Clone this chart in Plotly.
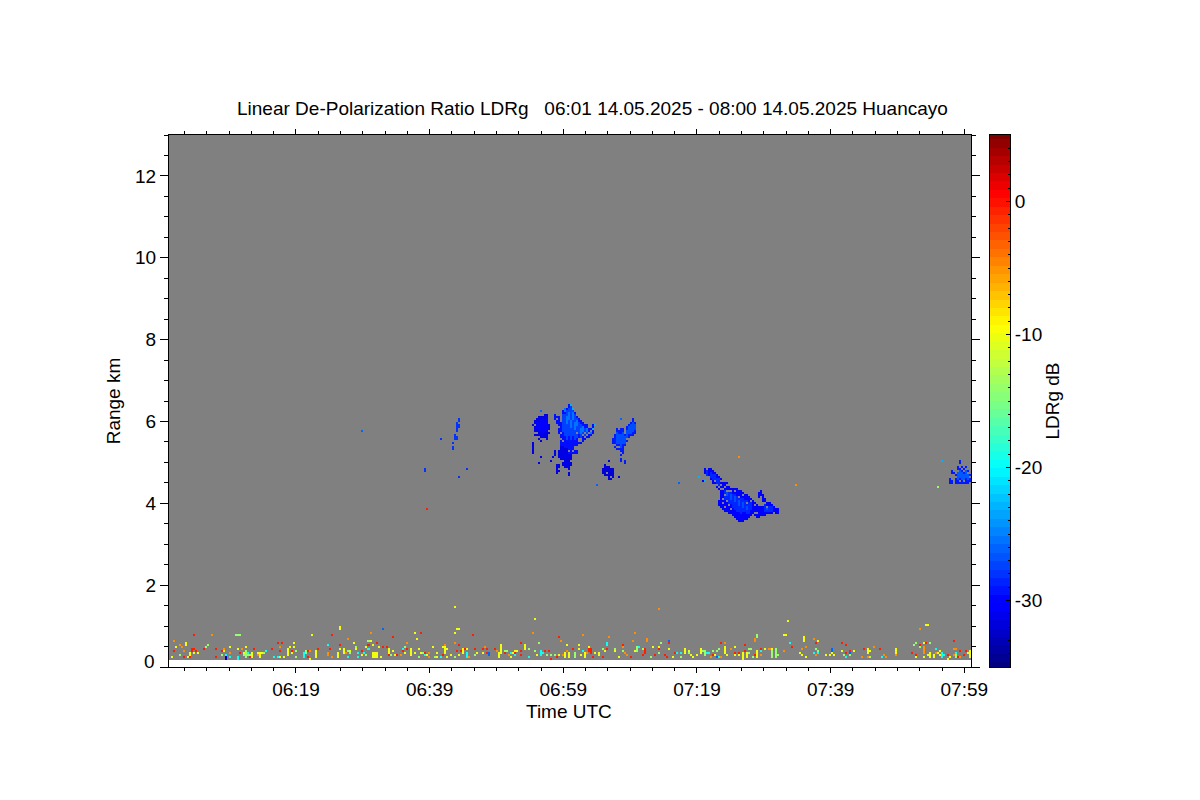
import numpy as np
import pandas as pd
import plotly.graph_objects as go

# ---- radar grid ----
START = "2025-05-14 06:00:00"
PROFILE_SECONDS = 18
N_PROFILES = 400
FIRST_GATE_KM = 0.17
GATE_KM = 0.04888
N_GATES = 263

TITLE = "Linear De-Polarization Ratio LDRg   06:01 14.05.2025 - 08:00 14.05.2025 Huancayo"
Y_LABELS = [2, 4, 6, 8, 10, 12]
CB_LABELS = [-30, -20, -10, 0]
CB_TEXT = ["-30", "-20", "-10", "0"]

# ---- cloud patches: (profile, lowest gate, highest gate) ----
BLOB_A = [(181,117,118),(181,103,108),(182,112,119),(183,112,120),(184,110,121),(185,109,121),(186,111,121),
          (187,111,122),(188,110,122),(189,113,117)]
BLOB_A_CORE = [(183,115,118),(184,114,118),(185,114,119),(186,113,120),(187,114,119),(188,115,120)]
BLOB_B = [(192,120,122),(193,118,121),(194,113,121),(195,107,118),(196,107,124),(197,106,125),(198,106,125),
          (199,102,127),(200,102,127),(201,103,125),(202,103,123),(203,103,121),(204,108,120),(205,108,119),
          (206,109,118),(207,110,117),(208,111,117),(209,111,115),(210,112,115),(211,113,117)]
BLOB_B_CORE = [(196,114,122),(197,112,122),(198,110,124),(199,112,125),(200,110,126),(201,112,124),(202,110,122),(203,111,120),
               (204,113,118),(205,110,117),(206,112,116),(207,112,115),(208,113,115)]
BLOB_B_LIGHT = [(198,118,121),(199,120,123),(200,116,119),(201,120,123),(202,115,118),(203,117,119),(205,113,115),(206,114,116),
                (208,114,115),(210,113,114),(197,124,125)]
BLOB_C = [(184,98,98),(185,101,101),(190,99,99),(191,101,101),(192,102,104),(193,93,97),(194,94,97),(194,101,104),
          (195,100,106),(196,97,106),(197,96,105),(198,96,105),(199,92,102),(200,97,102)]
BLOB_D = [(221,108,110),(222,106,112),(223,105,115),(224,105,114),(225,99,115),(226,103,115),(227,107,112),
          (227,98,99),(228,109,116),(229,111,117),(230,112,118),(231,112,120),(232,113,118)]
BLOB_D_CORE = [(223,108,113),(224,108,112),(225,106,112),(226,108,113),(227,108,111),(228,111,114),(229,113,116),(230,113,117),(231,114,118),(232,115,117)]
BLOB_E = [(213,87,87),(216,93,95),(217,92,97),(218,92,96),(219,90,96),(219,99,99),(220,90,95),(221,91,95),(224,91,91)]
BLOB_F = [(264,91,91),(266,89,89),(267,93,95),(269,92,95),(270,90,95),(271,88,94),(272,88,93),(273,86,92),(274,85,91),
          (274,77,79),(275,83,90),(275,76,82),(276,75,88),(277,74,88),(278,74,88),(279,73,86),(280,73,85),(281,72,85),
          (282,71,85),(283,70,85),(284,69,84),(285,69,84),(286,69,83),(287,70,82),(288,70,82),(289,71,81),(290,72,80),
          (291,73,79),(292,72,78),(293,71,77),(294,81,83),(294,71,76),(295,82,84),(295,72,76),(296,79,82),(296,72,76),
          (297,72,80),(298,73,78),(299,73,78),(300,73,77),(301,74,76),(302,73,75),(303,73,75)]
BLOB_F_CORE = [(268,92,94),(270,91,93),(271,90,92),(272,90,92),(273,88,90),(274,87,90),(277,80,84),(278,80,84),(279,78,83),(280,78,83),
               (281,76,82),(282,75,82),(283,74,81),(284,74,80),(285,73,80),(286,74,80),(287,74,79),(288,73,79),(289,73,78),(290,75,78),
               (297,74,77),(298,74,76),(299,74,76),(300,74,76)]
BLOB_F_LIGHT = [(280,80,82),(282,79,81),(284,77,79),(286,76,78),(278,82,83),(288,75,76),(298,75,76)]
BLOB_G = [(389,88,90),(390,93,94),(390,88,89),(391,93,93),(392,88,92),(393,88,96),(394,88,99),(395,88,96),
          (396,88,95),(397,88,96),(398,88,94),(399,89,92)]
BLOB_G_CORE = [(393,90,93),(394,91,94),(395,90,93),(396,90,92),(397,91,94),(398,90,92)]
STREAK_H = [(127,94,95),(135,110,110),(141,105,106),(141,108,108),(142,110,112),(143,110,111),(143,114,118),(144,116,117),(144,119,120),
            (144,91,91),(148,95,95)]
FAINT_DOTS = [(96,114),(254,88),(185,124),(213,87),(225,120)]
CYAN_DOTS = [(200,127),(201,125),(211,115),(212,117),(385,99),(264,91),(267,89)]
# cells left empty inside the patches: (profile, gate)
HOLES = [(181,118),(182,117),(182,113),(183,113),(184,111),(185,110),(189,114),(194,116),(195,110),(195,113),(196,109),(199,104),
         (201,104),(202,105),(202,106),(203,105),(203,106),(203,113),(204,109),(204,110),(205,109),(205,110),(206,112),(207,111),
         (207,113),(208,112),(209,113),(210,114),(193,120),(194,95),(196,99),(199,94),(200,99),(225,101),(225,103),(223,106),
         (224,106),(222,107),(228,110),(218,93),(220,91),(275,85),(275,87),(275,89),(276,85),(276,80),(276,78),(277,82),(277,86),
         (277,76),(278,79),(278,84),(278,87),(279,77),(279,84),(280,75),(280,84),(282,84),(284,81),(286,82),(288,78),(290,79),(292,77),
         (292,73),(293,73),(297,78),(298,76),(272,89),(273,87),(274,86),(392,91),(393,94),(394,96),(394,97),(395,95),(396,94),(397,95),
         (398,93),(399,91),(396,89),(394,89)]

# ---- near-ground clutter: (profile, gate) ----
SPK_RED = [(12,12),(11,5),(11,4),(12,5),(13,4),(17,5),(23,5),(26,4),(35,3),(40,1),(42,5),(51,5),(54,8),(56,8),(55,4),
           (61,4),(23,1),(10,1),(7,1),(2,4),(81,12),(125,13),(111,11),(74,5),(85,7),(80,5),(96,4),(103,8),(99,7),
           (106,6),(108,6),(69,4),(69,1),(109,2),(113,2),(116,4),(131,6),(127,3),(85,5),(118,5),(194,11),(175,8),
           (144,7),(151,12),(143,4),(145,4),(152,5),(156,5),(158,5),(162,5),(136,2),(147,5),(167,3),(172,3),(175,2),
           (175,4),(187,4),(189,4),(201,5),(190,0),(193,1),(158,3),(249,8),(226,7),(209,4),(210,4),(237,4),(237,3),
           (242,2),(244,5),(247,2),(252,3),(211,1),(216,1),(218,5),(230,1),(236,2),(248,1),(275,8),(287,7),(287,4),
           (284,3),(271,2),(295,5),(282,3),(337,7),(335,8),(337,3),(322,8),(310,6),(292,2),(374,7),(377,8),(391,9),
           (370,3),(372,2),(354,5),(346,5),(339,4),(388,2),(394,4),(397,4),(396,2),(393,1),(128,75)]
SPK_ORANGE = [(2,9),(5,7),(6,6),(21,12),(7,4),(10,2),(27,5),(30,3),(36,5),(44,2),(55,6),(89,10),(100,13),(70,4),(79,3),
              (79,2),(81,1),(87,5),(88,3),(118,8),(111,4),(115,2),(129,1),(129,3),(181,13),(142,8),(157,6),(163,4),
              (169,2),(159,2),(149,1),(196,2),(195,9),(137,7),(198,4),(206,12),(232,13),(238,9),(238,10),(219,11),(231,9),
              (227,3),(228,2),(226,6),(208,3),(292,10),(292,9),(277,8),(280,5),(299,5),(315,5),(317,6),(321,10),(306,4),
              (295,2),(270,1),(275,1),(322,2),(374,15),(376,5),(376,4),(351,6),(345,1),(356,2),(357,1),(348,1),(362,2),
              (382,3),(391,2),(391,5),(392,5),(394,1),(399,3),(244,25),(284,101),(312,87)]
SPK_YELLOW = [(8,8),(8,7),(3,6),(9,1),(1,1),(10,3),(10,2),(12,3),(14,3),(27,4),(30,6),(34,5),(38,6),(41,3),(41,2),(44,3),
              (46,3),(45,2),(59,4),(59,3),(59,2),(60,6),(62,8),(62,6),(61,3),(55,1),(57,1),(37,3),(85,15),(71,12),(123,10),
              (122,13),(92,8),(93,5),(100,9),(101,7),(104,6),(98,6),(109,5),(111,4),(70,0),(73,3),(73,2),(84,3),(85,5),
              (87,5),(90,4),(96,2),(101,2),(102,2),(103,2),(103,3),(105,1),(112,2),(117,3),(120,5),(120,3),(122,3),(124,5),
              (125,3),(128,2),(133,3),(131,6),(133,1),(144,15),(142,13),(136,6),(138,5),(137,5),(137,4),(146,5),(146,4),
              (148,5),(165,7),(165,6),(165,4),(172,4),(173,4),(177,7),(177,6),(140,2),(153,3),(156,3),(164,3),(164,2),
              (170,1),(183,2),(186,3),(194,2),(197,3),(197,2),(199,3),(199,2),(198,7),(171,3),(144,2),(138,1),(204,7),
              (204,5),(209,6),(207,3),(207,2),(205,2),(212,3),(214,2),(214,3),(217,4),(222,4),(224,1),(232,4),(233,4),
              (241,6),(244,6),(249,5),(251,1),(257,5),(257,4),(260,2),(261,1),(265,5),(265,4),(263,2),(267,2),(259,4),
              (306,12),(307,12),(316,10),(316,9),(323,9),(297,5),(300,5),(282,6),(272,2),(277,3),(278,2),(282,2),(284,2),
              (286,2),(286,1),(288,2),(293,3),(293,2),(314,3),(315,2),(317,1),(327,2),(329,2),(330,3),(331,2),(335,4),
              (378,17),(376,8),(348,5),(348,4),(349,4),(341,4),(384,4),(379,3),(379,2),(381,2),(381,1),(383,3),(384,2),
              (376,1),(378,2),(372,1),(362,3),(389,1),(388,0),(398,3),(399,2),(142,26),(143,15),(308,19),(377,17),(182,20),(85,16)]
SPK_LIME = [(33,12),(34,12),(35,12),(19,7),(5,2),(18,6),(26,2),(37,2),(39,2),(40,2),(47,3),(63,4),(63,1),(67,2),(68,4),(68,3),
            (99,9),(93,6),(89,4),(90,3),(98,2),(110,2),(117,6),(124,1),(126,3),(132,1),(184,8),(182,4),(167,4),(168,4),(179,5),
            (152,2),(142,1),(192,2),(188,2),(190,2),(233,5),(236,5),(244,3),(245,8),(216,5),(222,5),(226,4),(240,1),(255,1),
            (259,3),(266,4),(267,3),(293,12),(293,11),(274,5),(273,4),(271,4),(289,5),(290,5),(289,3),(291,1),(300,3),(300,1),
            (302,4),(302,5),(302,2),(303,2),(322,5),(323,4),(336,2),(371,7),(372,8),(374,6),(379,8),(339,2),(349,1),(392,2),(392,1),
            (277,5),(277,4),(383,86)]
SPK_CYAN = [(28,2),(30,1),(34,0),(34,1),(39,3),(48,4),(52,1),(54,1),(67,1),(79,7),(94,3),(99,5),(97,3),(84,1),(116,5),(127,2),
            (89,1),(94,1),(148,2),(148,1),(185,4),(186,3),(172,2),(170,3),(179,1),(202,3),(202,2),(135,1),(218,8),(218,7),(206,4),
            (234,6),(255,3),(253,3),(269,3),(268,3),(309,8),(274,1),(286,1),(295,4),(321,3),(323,3),(337,1),(382,5),(362,4),(355,1),
            (385,2),(386,2),(392,3)]
SPK_BLUE = [(106,15),(159,3),(159,2),(249,9),(330,5),(330,4),(339,3),(273,1)]
SPK_NAVY = [(28,0),(28,1)]
# taller clutter bars: (profile, lowest gate, highest gate)
BAR_YELLOW = [(59,2,5),(45,1,3),(41,1,3),(103,1,3),(102,1,3),(101,1,3),(109,3,5),(87,3,5),(120,2,5),(73,1,4),(84,1,3),
              (177,5,7),(165,3,7),(164,1,3),(197,1,3),(199,1,3),(146,3,5),(137,3,6),(207,1,3),(265,3,5),(257,3,5),
              (293,1,4),(316,9,11),(288,1,3),(286,0,3),(277,3,6),(348,3,5),(379,1,3),(399,1,4),(362,3,5)]
BAR_LIME = [(38,1,4),(233,4,6),(267,2,4),(300,1,4),(302,1,5),(202,1,3)]
BAR_RED = [(209,4,5),(210,3,5),(237,3,5)]
BAR_CYAN = [(67,1,3),(148,1,3),(185,2,4),(385,1,3)]
BAR_ORANGE = [(376,3,6)]

# ---- layout pixels of the reference ----
W, H = 1200, 800
L, R, T, B = 169, 971, 135, 667
CL, CR = 990, 1010
INNER = CR - L

x_times = pd.date_range(START, periods=N_PROFILES, freq=f"{PROFILE_SECONDS}s") + pd.Timedelta(seconds=PROFILE_SECONDS / 2)
ranges = FIRST_GATE_KM + GATE_KM * (np.arange(N_GATES) + 0.5)
z = np.full((N_GATES, N_PROFILES), np.nan)


def fill_spans(spans, db):
    for p, lo, hi in spans:
        z[lo:hi + 1, p] = db


def fill_dots(dots, db):
    for p, g in dots:
        z[g, p] = db


fill_spans(BLOB_A, -31.5)
fill_spans(BLOB_A_CORE, -30)
fill_spans(BLOB_B, -29.5)
fill_spans(BLOB_B_CORE, -27.5)
fill_spans(BLOB_B_LIGHT, -25.5)
fill_spans(BLOB_C, -31.5)
fill_spans(BLOB_D, -29)
fill_spans(BLOB_D_CORE, -27)
fill_spans(BLOB_E, -32)
fill_spans(BLOB_F, -30)
fill_spans(BLOB_F_CORE, -28.5)
fill_spans(BLOB_F_LIGHT, -27)
fill_spans(BLOB_G, -29)
fill_spans(BLOB_G_CORE, -26.5)
fill_spans(STREAK_H, -28)
fill_dots(HOLES, np.nan)
fill_dots(FAINT_DOTS, -26)
fill_dots(CYAN_DOTS, -23)
fill_dots(SPK_RED, -0.5)
fill_dots(SPK_ORANGE, -5)
fill_dots(SPK_YELLOW, -10)
fill_dots(SPK_LIME, -14)
fill_dots(SPK_CYAN, -19.5)
fill_dots(SPK_BLUE, -26)
fill_dots(SPK_NAVY, -33)
fill_spans(BAR_YELLOW, -10)
fill_spans(BAR_LIME, -14)
fill_spans(BAR_RED, -0.5)
fill_spans(BAR_CYAN, -19.5)
fill_spans(BAR_ORANGE, -5)

JET = [[0.0, "rgb(0,0,128)"], [0.11, "rgb(0,0,255)"], [0.125, "rgb(0,0,255)"], [0.375, "rgb(0,255,255)"],
       [0.5, "rgb(128,255,128)"], [0.64, "rgb(255,255,0)"], [0.89, "rgb(255,0,0)"], [1.0, "rgb(128,0,0)"]]
VMIN, VMAX = -35, 5
cb_levels = np.linspace(VMIN, VMAX, 64)

fig = go.Figure()
fig.add_trace(go.Heatmap(x=x_times, y=ranges, z=z, zmin=VMIN, zmax=VMAX, colorscale=JET, showscale=False,
                         hoverongaps=False, zsmooth=False))
fig.add_trace(go.Heatmap(x=[0], y=cb_levels, z=[[v] for v in cb_levels], zmin=VMIN, zmax=VMAX, colorscale=JET,
                         showscale=False, xaxis="x2", yaxis="y2", zsmooth=False))

FONT = dict(family="Liberation Sans, Helvetica, Arial", size=19, color="black")
axis_common = dict(showline=True, linecolor="black", linewidth=1, mirror="ticks", showgrid=False, zeroline=False,
                   ticks="outside", tickcolor="black", tickwidth=1, tickfont=FONT)
x0 = pd.Timestamp(START)
fig.update_layout(
    width=W, height=H, autosize=False, margin=dict(l=L, r=W - CR, t=T, b=H - B, pad=0),
    paper_bgcolor="white", plot_bgcolor="white", font=FONT, showlegend=False,
    xaxis=dict(domain=[0, (R - L) / INNER], range=[x0, x0 + pd.Timedelta(minutes=120)], type="date",
               tick0="2025-05-14 06:19:00", dtick=20 * 60000, tickformat="%H:%M", ticklen=5,
               minor=dict(ticks="outside", ticklen=3, tickcolor="black", tickwidth=1, dtick=200000,
                          tick0="2025-05-14 06:19:00", showgrid=False),
               **axis_common),
    yaxis=dict(domain=[0, 1], range=[0, 13], dtick=2, tick0=0, ticklen=8,
               labelalias={0: " "},
               minor=dict(ticks="outside", ticklen=4, tickcolor="black", tickwidth=1, dtick=0.5, tick0=0, showgrid=False),
               title=dict(text="Range km", font=FONT, standoff=9), **axis_common),
    xaxis2=dict(domain=[(CL - L) / INNER, 1], range=[-0.5, 0.5], showticklabels=False, ticks="", showgrid=False, zeroline=False,
                showline=True, linecolor="black", linewidth=1, mirror=True, anchor="y2"),
    yaxis2=dict(domain=[0, 1], range=[VMIN, VMAX], side="right", anchor="x2", tickvals=CB_LABELS, ticktext=CB_TEXT,
                ticks="inside", ticklen=4, tickcolor="black", tickwidth=1, tickfont=FONT, showgrid=False, zeroline=False,
                minor=dict(ticks="inside", ticklen=2, tickcolor="black", dtick=1, tick0=0, showgrid=False),
                ticklabelposition="outside", showline=True, linecolor="black", linewidth=1, mirror=True,
                title=dict(text="LDRg dB", font=FONT, standoff=4)),
    shapes=[dict(type="rect", xref="x", yref="y", x0=x0, x1=x0 + pd.Timedelta(minutes=120), y0=FIRST_GATE_KM, y1=13,
                 fillcolor="rgb(128,128,128)", line_width=0, layer="below")],
    annotations=[dict(text="0", xref="paper", yref="y", x=-12 / INNER, y=0, xanchor="right", yanchor="middle",
                      yshift=6, showarrow=False, font=FONT),
                 dict(text="Time UTC", xref="paper", yref="paper", x=(569 - L) / INNER, y=(B - 711) / (B - T),
                      xanchor="center", yanchor="middle", showarrow=False, font=FONT),
                 dict(text=TITLE, xref="paper", yref="paper", x=((237 + 948) / 2 - L) / INNER, y=(B - 109) / (B - T),
                      xanchor="center", yanchor="middle", showarrow=False, font=FONT)],
)

fig.write_html("out.html", config={"displayModeBar": False}, post_script="document.body.style.margin='0';")
